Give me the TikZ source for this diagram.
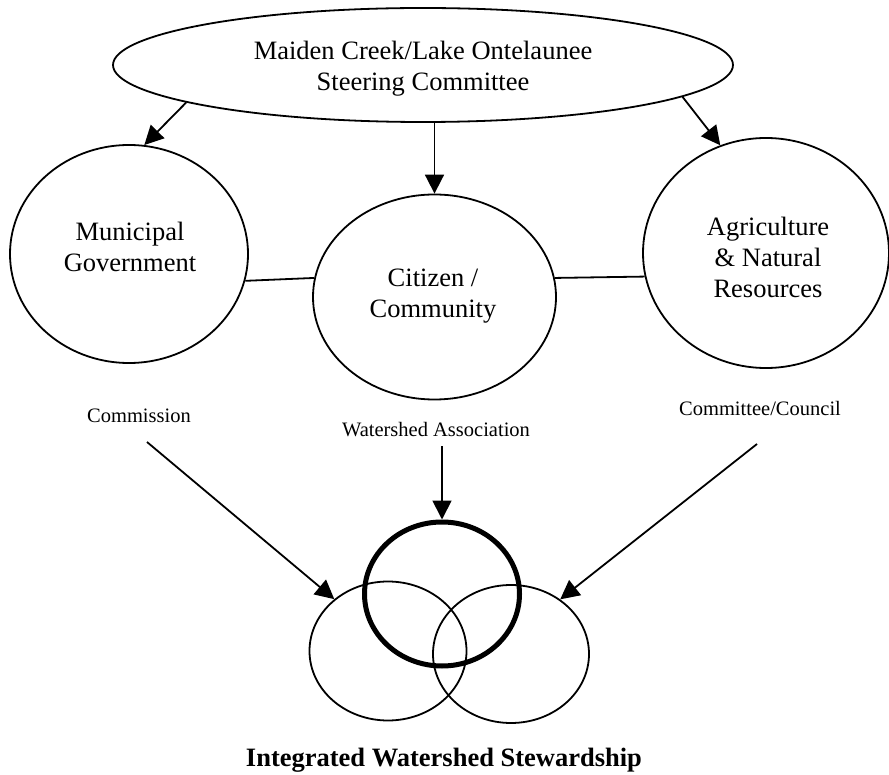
\documentclass[tikz,border=0pt]{standalone}
\usepackage{fontspec}
\setmainfont{Liberation Serif}
\usetikzlibrary{shapes.geometric,arrows.meta}
\begin{document}
\begin{tikzpicture}[x=1pt,y=-1pt,
  oval/.style={draw,ellipse,line width=1.8pt,inner sep=0pt},
  big/.style={font=\fontsize{26.5}{31}\selectfont,align=center,inner sep=0pt},
  small/.style={font=\fontsize{20.5}{24}\selectfont,inner sep=0pt,anchor=base},
  titletext/.style={font=\fontsize{26.5}{30}\selectfont\bfseries,inner sep=0pt,anchor=base},
  arr/.style={line width=1.8pt,-{Triangle[length=19pt,width=19pt]}},
  link/.style={line width=1.8pt}]
\useasboundingbox (0,0) rectangle (889,775);

% top ellipse
\node[oval,minimum width=620pt,minimum height=114pt] (top) at (423,65) {};
\node[big] (toptext) at (423,68.4) {Maiden Creek/Lake Ontelaunee\\Steering Committee};

% three circles
\node[oval,minimum width=238pt,minimum height=218pt] (left) at (129,254) {};
\node[big] (lefttext) at (130,246.5) {Municipal\\Government};
\node[oval,minimum width=243pt,minimum height=205pt] (mid) at (434.5,297) {};
\node[big] (midtext) at (433,296.4) {Citizen /\\Community};
\node[oval,minimum width=246pt,minimum height=230pt] (right) at (766,253) {};
\node[big] (righttext) at (768,257) {Agriculture\\\& Natural\\Resources};

% arrows from steering committee
\draw[arr] (top.189) -- (left.82);
\draw[arr] (mid.north |- top.south) -- (mid.north);
\draw[arr] (top.353) -- (right.113.5);

% links between circles
\draw[link] (left.-13) -- (mid.171);
\draw[link] (mid.9) -- (right.191);

% small labels
\node[small] (comm) at (139,423) {Commission};
\node[small] (wsa) at (436,437) {Watershed Association};
\node[small] (ccl) at (760,416) {Committee/Council};

% venn
\node[oval,minimum width=157pt,minimum height=139pt] (vl) at (388,651) {};
\node[oval,minimum width=156pt,minimum height=138pt] (vr) at (511,654) {};
\node[oval,line width=5pt,minimum width=155pt,minimum height=144pt] (vc) at (442,594) {};

% arrows to venn
\coordinate (ca) at (147,442);
\coordinate (wa) at (442,446);
\coordinate (cc) at (757,444);
\draw[arr] (ca) -- (vl.136);
\draw[arr] (wa) -- (vc.north);
\draw[arr] (cc) -- (vr.48);

% title
\node[titletext] (title) at (444,766) {Integrated Watershed Stewardship};
\end{tikzpicture}
\end{document}
